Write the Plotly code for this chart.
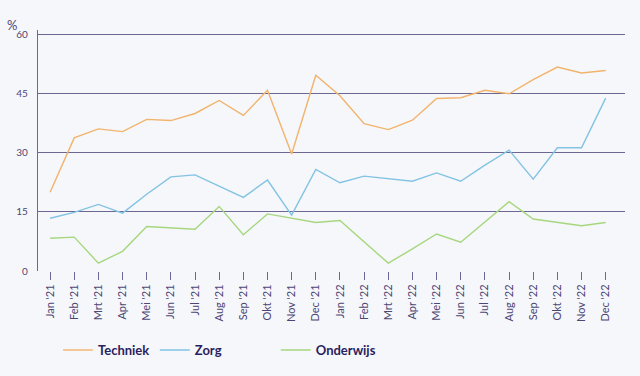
import plotly.graph_objects as go

months = ["Jan '21", "Feb '21", "Mrt '21", "Apr '21", "Mei '21", "Jun '21", "Jul '21", "Aug '21",
          "Sep '21", "Okt '21", "Nov '21", "Dec '21", "Jan '22", "Feb '22", "Mrt '22", "Apr '22",
          "Mei '22", "Jun '22", "Jul '22", "Aug '22", "Sep '22", "Okt '22", "Nov '22", "Dec '22"]

techniek = [20.0, 33.8, 36.1, 35.4, 38.5, 38.2, 40.0, 43.3, 39.5, 45.9, 29.7, 49.7,
            44.5, 37.4, 35.9, 38.3, 43.8, 44.0, 45.9, 45.0, 48.6, 51.8, 50.3, 50.9]
zorg = [13.4, 14.9, 16.9, 14.7, 19.5, 23.9, 24.4, 21.5, 18.7, 23.1, 14.2, 25.8,
        22.4, 24.1, 23.5, 22.8, 24.9, 22.8, 26.9, 30.7, 23.3, 31.3, 31.3, 43.9]
onderwijs = [8.3, 8.6, 2.0, 5.0, 11.3, 11.0, 10.6, 16.4, 9.2, 14.5, 13.4, 12.3,
             12.8, 7.5, 2.0, 5.6, 9.4, 7.3, 12.4, 17.6, 13.2, 12.3, 11.5, 12.3]

y_ticks = [0, 15, 30, 45, 60]

FONT = "Lato"
GRID = "#6d6893"
TXT = "#4d4673"
LEG = "#2b1f5e"
BG = "#f6f7fb"

fig = go.Figure()
fig.add_trace(go.Scatter(x=months, y=techniek, name="Techniek", mode="lines",
                         line=dict(color="#f2b36b", width=1.4)))
fig.add_trace(go.Scatter(x=months, y=zorg, name="Zorg", mode="lines",
                         line=dict(color="#82c3e3", width=1.4), legend="legend2"))
fig.add_trace(go.Scatter(x=months, y=onderwijs, name="Onderwijs", mode="lines",
                         line=dict(color="#a6d77e", width=1.4), legend="legend3"))

def leg(x):
    return dict(x=x, y=-0.328, xref="paper", yref="paper", orientation="h",
                xanchor="left", yanchor="middle", bgcolor="rgba(0,0,0,0)",
                font=dict(family=FONT, size=13, color=LEG, weight="bold"))

fig.update_layout(
    width=640, height=376,
    margin=dict(l=38, r=15, t=30, b=105, autoexpand=False),
    paper_bgcolor=BG, plot_bgcolor=BG,
    font=dict(family=FONT, color=TXT),
    showlegend=True,
    legend=leg(0.034),
    legend2=leg(0.199),
    legend3=leg(0.405),
    xaxis=dict(type="category", range=[-0.5, 23.8], showgrid=False,
               showline=False, zeroline=False, automargin=False,
               ticks="outside", ticklen=8, tickwidth=1.3, tickcolor=GRID,
               tickangle=-90, tickfont=dict(family=FONT, size=11, color=TXT)),
    yaxis=dict(range=[0, 61.2], tickvals=y_ticks, showgrid=True, gridcolor=GRID, gridwidth=1.3,
               zeroline=False, showline=True, linecolor=GRID, linewidth=1.3,
               ticks="", ticklabelstandoff=7, automargin=False,
               tickfont=dict(family=FONT, size=10, color=TXT)),
    annotations=[dict(text="%", xref="paper", yref="paper", x=-0.033, y=1.022,
                      xanchor="right", yanchor="middle", showarrow=False,
                      font=dict(family=FONT, size=13, color=TXT))],
)

fig.write_html("out.html", config={"displayModeBar": False},
               post_script="document.body.style.margin='0';document.body.style.background='%s';" % BG)
